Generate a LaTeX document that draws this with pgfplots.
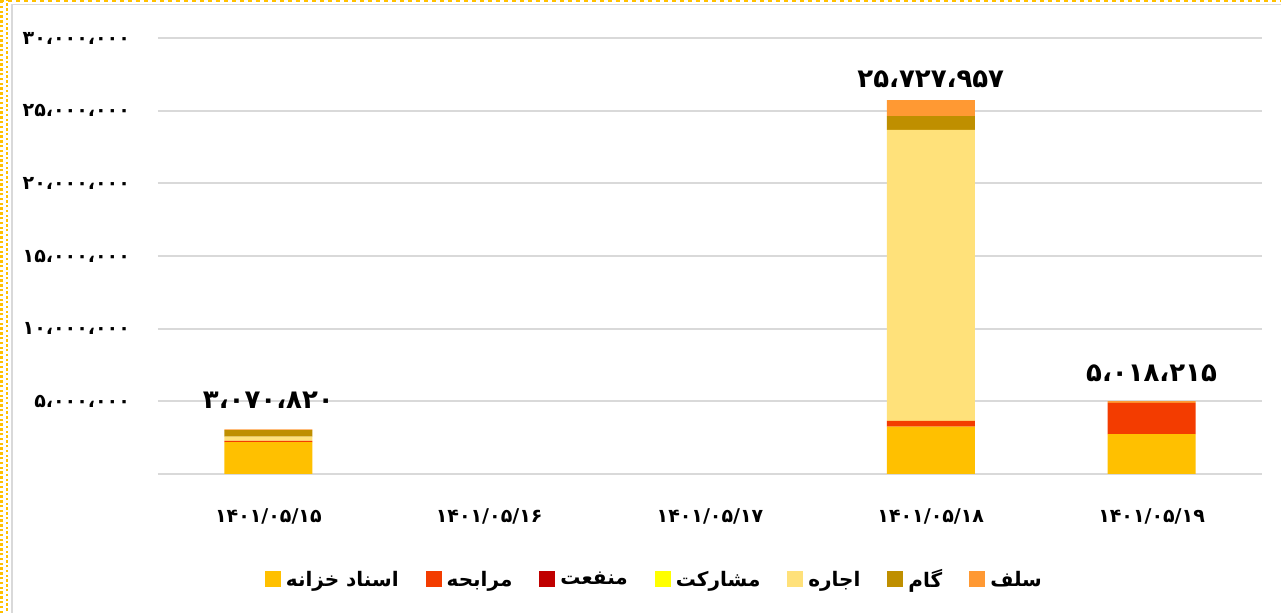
\documentclass[border=0pt]{standalone}
\usepackage{pgfplots}
\pgfplotsset{compat=1.18}
\usepackage{fontspec}
\setmainfont{DejaVu Sans}
\newfontfamily\arabicfont[Script=Arabic]{DejaVu Sans}
\TeXXeTstate=1
\definecolor{cAsnad}{RGB}{255,192,0}
\definecolor{cMorabehe}{RGB}{243,60,0}
\definecolor{cManfaat}{RGB}{192,0,0}
\definecolor{cMosharekat}{RGB}{255,255,0}
\definecolor{cEjare}{RGB}{255,225,122}
\definecolor{cGam}{RGB}{191,143,0}
\definecolor{cSalaf}{RGB}{255,153,51}
\definecolor{cGrid}{RGB}{217,217,217}
\begin{document}
\begin{tikzpicture}
\useasboundingbox (0,0) rectangle (640.5pt,306.5pt);
\fill[white] (0,0) rectangle (640.5pt,306.5pt);
\draw[cAsnad, line width=1.2pt, dash pattern=on 1.2pt off 1.2pt] (0.8pt,0) -- (0.8pt,306.5pt);
\draw[cAsnad, line width=1.2pt, dash pattern=on 1.2pt off 1.2pt, dash phase=1.2pt] (3.4pt,0) -- (3.4pt,306.5pt);
\draw[cAsnad, line width=1.1pt, dash pattern=on 2pt off 2pt] (0,305.9pt) -- (640.5pt,305.9pt);
\draw[cGrid, line width=0.6pt] (6pt,0) -- (6pt,304.3pt) -- (640.5pt,304.3pt);
\begin{axis}[
  at={(79pt,69.5pt)}, anchor=south west,
  scale only axis, width=552pt, height=218pt,
  xmin=-0.5, xmax=4.5, ymin=0, ymax=30,
  ybar stacked, bar width=44pt,
  xtick={0,1,2,3,4},
  xticklabels={۱۴۰۱/۰۵/۱۵,۱۴۰۱/۰۵/۱۶,۱۴۰۱/۰۵/۱۷,۱۴۰۱/۰۵/۱۸,۱۴۰۱/۰۵/۱۹},
  ytick={0,5,10,15,20,25,30},
  yticklabels={{},۵،۰۰۰،۰۰۰,۱۰،۰۰۰،۰۰۰,۱۵،۰۰۰،۰۰۰,۲۰،۰۰۰،۰۰۰,۲۵،۰۰۰،۰۰۰,۳۰،۰۰۰،۰۰۰},
  ymajorgrids, grid style={draw=cGrid, line width=0.9pt},
  axis line style={draw=none}, major tick length=0pt,
  tick label style={font=\arabicfont\bfseries\fontsize{9.5}{11}\selectfont},
  yticklabel style={anchor=east, xshift=-10.5pt},
  xticklabel style={anchor=center, yshift=-21pt},
  legend columns=7,
  legend style={at={(0.451,-0.243)}, anchor=center, draw=none, fill=none,
    font=\arabicfont\bfseries\fontsize{10}{12}\selectfont,
    /tikz/every even column/.append style={column sep=11pt},
    nodes={inner sep=2.5pt}},
  legend image code/.code={\path[#1,draw=none] (0pt,-3.5pt) rectangle (8pt,4.5pt);},
]
\addplot[fill=cAsnad, draw=none] coordinates {(0,2.2) (3,3.26) (4,2.75)};
\addlegendentry{\beginR اسناد خزانه\endR}
\addplot[fill=cMorabehe, draw=none] coordinates {(0,0.07) (3,0.39) (4,2.15)};
\addlegendentry{\beginR مرابحه\endR}
\addplot[fill=cManfaat, draw=none] coordinates {(0,0) (3,0) (4,0)};
\addlegendentry{\beginR منفعت\endR}
\addplot[fill=cMosharekat, draw=none] coordinates {(0,0) (3,0) (4,0)};
\addlegendentry{\beginR مشارکت\endR}
\addplot[fill=cEjare, draw=none] coordinates {(0,0.3) (3,20.02) (4,0)};
\addlegendentry{\beginR اجاره\endR}
\addplot[fill=cGam, draw=none] coordinates {(0,0.45) (3,0.96) (4,0)};
\addlegendentry{\beginR گام\endR}
\addplot[fill=cSalaf, draw=none, point meta=explicit symbolic, nodes near coords,
  every node near coord/.append style={font=\arabicfont\bfseries\fontsize{13}{15}\selectfont, anchor=center, yshift=14.5pt, text=black}]
  coordinates {(0,0.05) [۳،۰۷۰،۸۲۰] (3,1.1) [۲۵،۷۲۷،۹۵۷] (4,0.12) [۵،۰۱۸،۲۱۵]};
\addlegendentry{\beginR سلف\endR}
\end{axis}
\end{tikzpicture}
\end{document}
